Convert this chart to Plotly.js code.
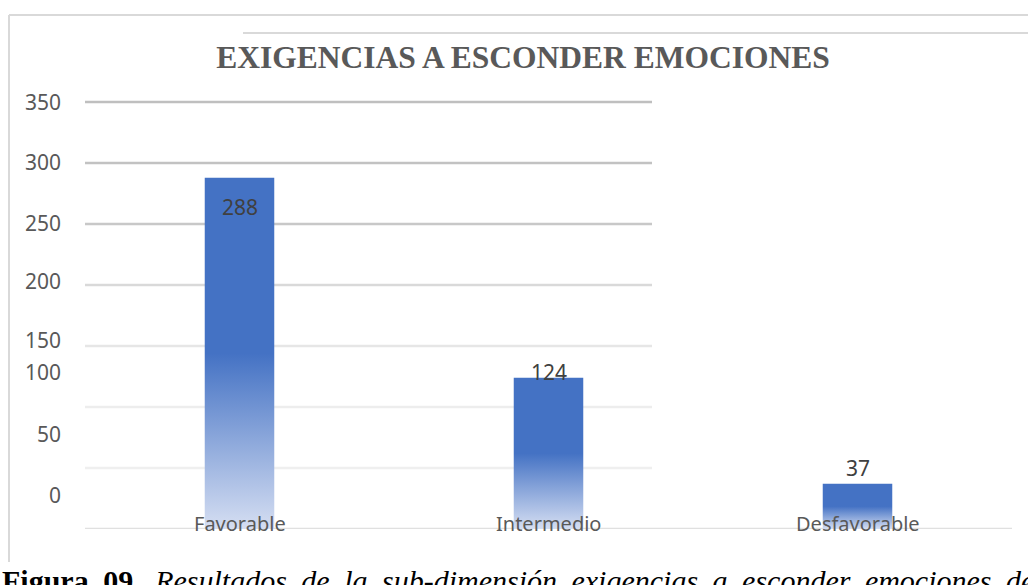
<!DOCTYPE html>
<html>
<head>
<meta charset="utf-8">
<script src="https://cdn.plot.ly/plotly-3.0.1.min.js"></script>
<style>
  html, body { margin: 0; padding: 0; background: #ffffff; }
  #chart { width: 1028px; height: 585px; }
</style>
</head>
<body>
<div id="chart"></div>
<script>
// ---- data ----
const categories = ["Favorable", "Intermedio", "Desfavorable"];
const values = [288, 124, 37];
const yTickValues = [0, 50, 100, 150, 200, 250, 300, 350];
const yTickLabels = ["0", "50", "100", "150", "200", "250", "300", "350"];
const chartTitle = "EXIGENCIAS A ESCONDER EMOCIONES";
const captionBold = "Figura 09.";
const captionItalic = "Resultados de la sub-dimensión exigencias a esconder emociones de";

// ---- style ----
const barColor = "#4472c4";
const gridColors = ["#e0e0e0", "#efefef", "#ededed", "#e6e6e6", "#d9d9d9", "#c8c8c8", "#c2c2c2", "#bfbfbf"];
const yLabelShift = [34, 34, 35, 6, 4, 1, 1, 0];   // px, quirks of the original label placement
const valueLabelShift = [-29, 6, 16];              // px relative to bar top
const sansFont = "Noto Sans, Open Sans, sans-serif";
const serifFont = "Liberation Serif, Times New Roman, serif";

// pixel helpers for the plot frame (margins l=85, r=16, t=90, b=56)
const L = 85, R = 16, T = 90, B = 56, W = 1028, H = 585;
const pw = W - L - R, ph = H - T - B;
const px = p => (p - L) / pw;
const py = p => (H - B - p) / ph;

const shapes = [];
yTickValues.forEach((v, i) => {
  if (v === 0) return;
  shapes.push({type: "line", layer: "below", xref: "paper", yref: "y",
    x0: 0, x1: px(652), y0: v, y1: v,
    line: {color: gridColors[i], width: 2.5}});
});
// baseline
shapes.push({type: "line", layer: "below", xref: "paper", yref: "y",
  x0: 0, x1: 1, y0: 0, y1: 0, line: {color: gridColors[0], width: 2.5}});
// outer frame pieces
shapes.push({type: "line", xref: "paper", yref: "paper", x0: px(9), x1: px(1030), y0: py(15), y1: py(15),
  line: {color: "#d9d9d9", width: 2}});
shapes.push({type: "line", xref: "paper", yref: "paper", x0: px(243), x1: px(1030), y0: py(33), y1: py(33),
  line: {color: "#d9d9d9", width: 2}});
shapes.push({type: "line", xref: "paper", yref: "paper", x0: px(9), x1: px(9), y0: py(15), y1: py(562),
  line: {color: "#d9d9d9", width: 2}});

const annotations = [];
yTickValues.forEach((v, i) => {
  annotations.push({xref: "paper", yref: "y", x: px(63), y: v, xanchor: "right", yanchor: "middle",
    yshift: yLabelShift[i], showarrow: false, text: yTickLabels[i],
    font: {family: sansFont, size: 21, color: "#595959"}});
});
categories.forEach((c, i) => {
  annotations.push({xref: "x", yref: "y", x: c, y: values[i], xanchor: "center", yanchor: "middle",
    yshift: valueLabelShift[i], showarrow: false, text: String(values[i]),
    font: {family: sansFont, size: 21, color: "#404040"}});
  annotations.push({xref: "x", yref: "y", x: c, y: 0, xanchor: "center", yanchor: "middle",
    yshift: 6, showarrow: false, text: c,
    font: {family: sansFont, size: 20, color: "#595959"}});
});
annotations.push({xref: "paper", yref: "paper", x: px(0), y: py(562), xanchor: "left", yanchor: "top",
  showarrow: false, align: "left",
  text: "<b>" + captionBold + "</b> <i>" + captionItalic + "</i>",
  font: {family: serifFont, size: 30, color: "#000000"}});

const trace = {
  type: "bar", x: categories, y: values,
  width: 0.225,
  marker: {color: barColor, line: {width: 0}},
  hoverinfo: "none"
};

const layout = {
  width: W, height: H,
  margin: {l: L, r: R, t: T, b: B, pad: 0},
  paper_bgcolor: "#ffffff", plot_bgcolor: "rgba(0,0,0,0)",
  showlegend: false,
  title: {text: "<b>" + chartTitle + "</b>", xref: "container", yref: "container",
    x: 523 / W, y: 1 - 57 / H, xanchor: "center", yanchor: "middle",
    font: {family: serifFont, size: 31.5, color: "#595959"}},
  xaxis: {type: "category", showgrid: false, zeroline: false, showline: false,
    showticklabels: false, ticks: "", range: [-0.5, 2.5], fixedrange: true},
  yaxis: {range: [0, ph / 1.22], showgrid: false, zeroline: false, showline: false,
    showticklabels: false, ticks: "", fixedrange: true},
  shapes: shapes,
  annotations: annotations
};

Plotly.newPlot("chart", [trace], layout, {displayModeBar: false, staticPlot: true}).then(gd => {
  const svg = gd.querySelector("svg.main-svg");
  const ns = "http://www.w3.org/2000/svg";
  let defs = svg.querySelector("defs");
  if (!defs) { defs = document.createElementNS(ns, "defs"); svg.insertBefore(defs, svg.firstChild); }
  const grad = document.createElementNS(ns, "linearGradient");
  grad.setAttribute("id", "barFade");
  grad.setAttribute("x1", "0"); grad.setAttribute("y1", "0");
  grad.setAttribute("x2", "0"); grad.setAttribute("y2", "1");
  [["0", barColor], ["0.5", barColor], ["1", "#d5def2"]].forEach(([o, c]) => {
    const s = document.createElementNS(ns, "stop");
    s.setAttribute("offset", o); s.setAttribute("stop-color", c);
    grad.appendChild(s);
  });
  defs.appendChild(grad);
  gd.querySelectorAll(".trace.bars .point path").forEach(p => { p.style.fill = "url(#barFade)"; });
  // justified look of the caption line
  gd.querySelectorAll(".annotation-text").forEach(t => {
    if (t.textContent.indexOf(captionBold) === 0) t.style.wordSpacing = "7px";
  });
});
</script>
</body>
</html>
